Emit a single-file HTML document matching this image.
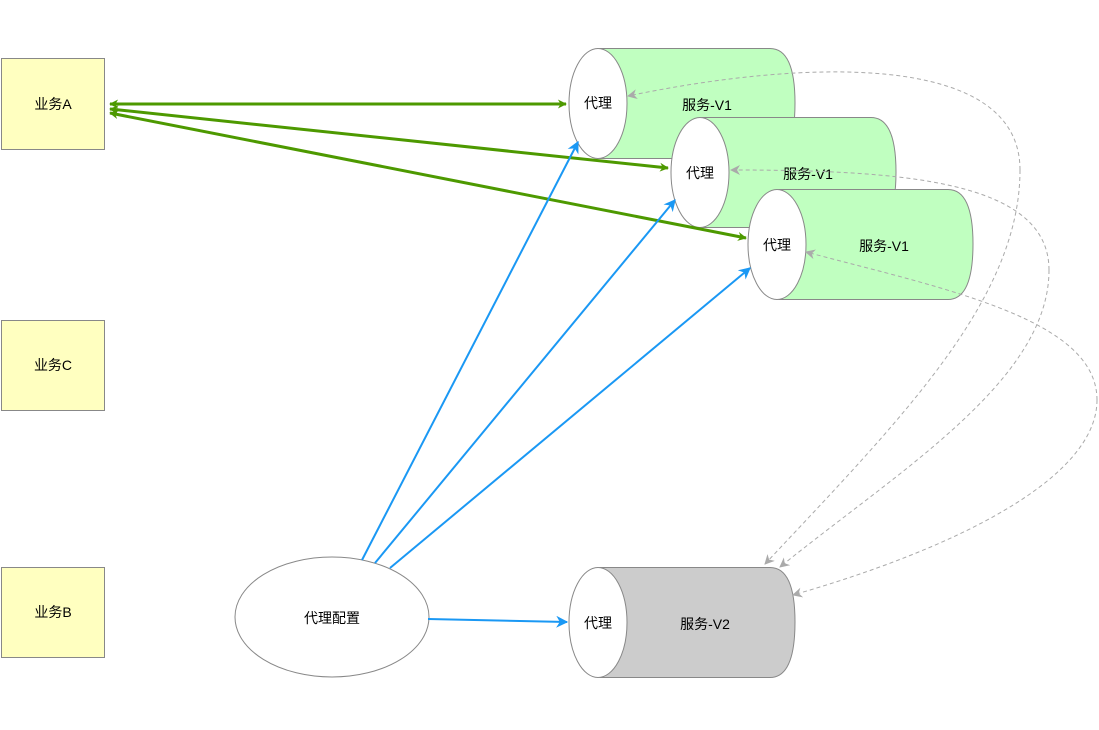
<!DOCTYPE html>
<html><head><meta charset="utf-8"><style>
html,body{margin:0;padding:0;background:#fff;}
svg{display:block;}
text{font-family:"Liberation Sans","Noto Sans CJK SC",sans-serif;font-size:14px;fill:#000;}
</style></head><body>
<svg width="1099" height="730" viewBox="0 0 1099 730" xmlns="http://www.w3.org/2000/svg">
<defs>
<marker id="g" viewBox="0 0 10 10" refX="9" refY="5" markerWidth="5" markerHeight="5" orient="auto-start-reverse" markerUnits="userSpaceOnUse" style="overflow:visible"><path d="M0,0 L10,5 L0,10 L3,5 Z" transform="scale(1.8) translate(-4,-2.2)" fill="#4d9900"/></marker>
<marker id="b" viewBox="0 0 10 10" refX="9" refY="5" markerWidth="12" markerHeight="12" orient="auto" markerUnits="userSpaceOnUse"><path d="M0,0 L10,5 L0,10 L3,5 Z" fill="#1a98f4"/></marker>
<marker id="d" viewBox="0 0 10 10" refX="9" refY="5" markerWidth="10" markerHeight="10" orient="auto" markerUnits="userSpaceOnUse"><path d="M0,0 L10,5 L0,10 L3,5 Z" fill="#aaa"/></marker>
</defs>

<!-- yellow boxes -->
<rect x="1.5" y="58.5" width="103" height="91" fill="#ffffc0" stroke="#888"/>
<text x="53" y="109" text-anchor="middle">业务A</text>
<rect x="1.5" y="320.5" width="103" height="90" fill="#ffffc0" stroke="#888"/>
<text x="53" y="370" text-anchor="middle">业务C</text>
<rect x="1.5" y="567.5" width="103" height="90" fill="#ffffc0" stroke="#888"/>
<text x="53" y="617" text-anchor="middle">业务B</text>

<!-- service 1 -->
<path d="M600,48.5 H770 Q795,48.5 795,103 Q795,158.5 770,158.5 H600 Z" fill="#c0ffc0" stroke="#888"/>
<ellipse cx="598" cy="103.5" rx="29" ry="55" fill="#fff" stroke="#888"/>
<text x="598" y="108" text-anchor="middle">代理</text>
<text x="707" y="110" text-anchor="middle">服务-V1</text>

<!-- service 2 -->
<path d="M702,117.5 H871 Q896,117.5 896,172 Q896,227.5 871,227.5 H702 Z" fill="#c0ffc0" stroke="#888"/>
<ellipse cx="700" cy="172.5" rx="29" ry="55" fill="#fff" stroke="#888"/>
<text x="700" y="178" text-anchor="middle">代理</text>
<text x="808" y="179" text-anchor="middle">服务-V1</text>

<!-- service 3 -->
<path d="M779,189.5 H948 Q973,189.5 973,244 Q973,299.5 948,299.5 H779 Z" fill="#c0ffc0" stroke="#888"/>
<ellipse cx="777" cy="244.5" rx="29" ry="55" fill="#fff" stroke="#888"/>
<text x="777" y="250" text-anchor="middle">代理</text>
<text x="884" y="251" text-anchor="middle">服务-V1</text>

<!-- service V2 -->
<path d="M600,567.5 H770 Q795,567.5 795,622 Q795,677.5 770,677.5 H600 Z" fill="#cccccc" stroke="#888"/>
<ellipse cx="598" cy="622.5" rx="29" ry="55" fill="#fff" stroke="#888"/>
<text x="598" y="628" text-anchor="middle">代理</text>
<text x="705" y="629" text-anchor="middle">服务-V2</text>

<!-- config -->
<ellipse cx="332" cy="617" rx="97" ry="60" fill="#fff" stroke="#888"/>
<text x="332" y="623" text-anchor="middle">代理配置</text>

<!-- green arrows -->
<g stroke="#4d9900" stroke-width="3" fill="none">
<line x1="110" y1="104" x2="566" y2="104" marker-start="url(#g)" marker-end="url(#g)"/>
<line x1="110" y1="109" x2="668" y2="168" marker-start="url(#g)" marker-end="url(#g)"/>
<line x1="110" y1="113" x2="746" y2="238" marker-start="url(#g)" marker-end="url(#g)"/>
</g>

<!-- blue arrows -->
<g stroke="#1a98f4" stroke-width="2" fill="none">
<line x1="362" y1="560" x2="578" y2="142" marker-end="url(#b)"/>
<line x1="375" y1="563" x2="675" y2="200" marker-end="url(#b)"/>
<line x1="390" y1="568" x2="750" y2="268" marker-end="url(#b)"/>
<line x1="428" y1="619" x2="567" y2="622" marker-end="url(#b)"/>
</g>

<!-- dashed curves -->
<g stroke="#aaa" stroke-width="1" fill="none" stroke-dasharray="4 3">
<path d="M1020,170 C1020,300 900,420 765,564" marker-end="url(#d)"/>
<path d="M1020,170 C1020,50 800,60 628,96" marker-end="url(#d)"/>
<path d="M1049,270 C1049,380 900,470 780,567" marker-end="url(#d)"/>
<path d="M1049,270 C1049,180 900,170 731,170" marker-end="url(#d)"/>
<path d="M1097,400 C1097,480 950,550 793,595" marker-end="url(#d)"/>
<path d="M1097,400 C1097,320 950,290 806,252" marker-end="url(#d)"/>
</g>
</svg>
</body></html>
